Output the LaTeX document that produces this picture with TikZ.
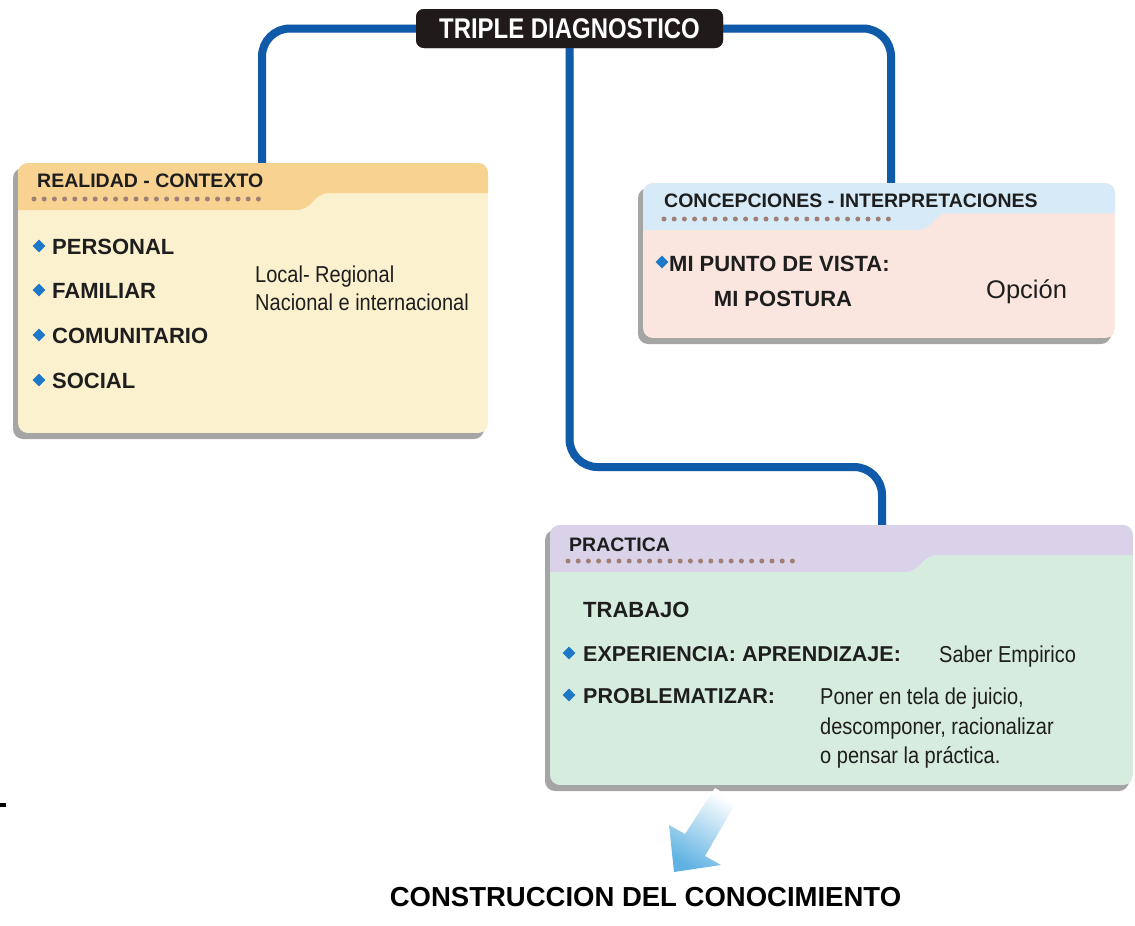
\documentclass[tikz,border=0pt]{standalone}
\usepackage{fontspec}
\setmainfont{Liberation Sans}
\newfontfamily\narrowfont[FakeStretch=0.87]{Liberation Sans}
\newfontfamily\titlefam[FakeStretch=0.84]{Liberation Sans}
\usepackage{tikz}
\usetikzlibrary{shapes.geometric}

\definecolor{linkblue}{RGB}{16,90,170}
\definecolor{titleblack}{RGB}{32,26,26}
\definecolor{textdark}{RGB}{30,30,30}
\definecolor{realhead}{RGB}{248,210,145}
\definecolor{realbody}{RGB}{251,241,206}
\definecolor{conchead}{RGB}{214,234,248}
\definecolor{concbody}{RGB}{250,230,222}
\definecolor{prachead}{RGB}{218,210,232}
\definecolor{pracbody}{RGB}{214,236,223}
\definecolor{dotbrown}{RGB}{160,128,118}
\definecolor{bulletblue}{RGB}{30,120,200}
\definecolor{arrowblue}{RGB}{95,178,226}
\definecolor{boxshadow}{RGB}{165,165,165}

\newcommand{\headfont}{\fontsize{19.5}{23}\selectfont\bfseries}
\newcommand{\itemfont}{\fontsize{22}{26}\selectfont\bfseries}
\newcommand{\subfont}{\fontsize{21.5}{26}\selectfont\bfseries}
\newcommand{\notefont}{\narrowfont\fontsize{23}{27}\selectfont}
\newcommand{\titlefont}{\titlefam\fontsize{28.5}{32}\selectfont\bfseries}

% box with a tab header: x1, y1 (top), x2, y2 (bottom), slant x, head colour, body colour, dots x
\newcommand{\tabbox}[8]{%
  \fill[boxshadow, rounded corners=10] (#1-5,#2+5) rectangle (#3-4,#4+6);
  \begin{scope}
    \clip[rounded corners=10] (#1,#2) rectangle (#3,#4);
    \fill[#7] (#1,#2) rectangle (#3,#4);
    \fill[#6, rounded corners=8] (#1-20,#2+47) -- (#1-20,#2-20) -- (#3+20,#2-20) -- (#3+20,#2+30) -- (#5+16,#2+30) -- (#5,#2+47) -- cycle;
  \end{scope}
  \foreach \k in {0,...,22} \fill[dotbrown] (#8+\k*10.2,#2+36) circle (2.5);
}

\tikzset{
  link/.style={line width=8, draw=linkblue, rounded corners=28},
  linkshadow/.style={line width=8, draw=black!12, rounded corners=28, xshift=3pt, yshift=-3pt},
  titlebox/.style={fill=titleblack, text=white, rounded corners=8, minimum width=307, minimum height=39, inner sep=0, font=\titlefont},
  label/.style={anchor=base west, inner sep=0, text=textdark},
  bullet/.style={diamond, fill=bulletblue, inner sep=0, minimum size=13}
}

\begin{document}
\begin{tikzpicture}[x=1pt, y=-1pt]
  \useasboundingbox (0,0) rectangle (1135,926);

  \coordinate (realidadIn) at (262,163);
  \coordinate (concepIn) at (891,183);
  \coordinate (practicaIn) at (882,525);
  \coordinate (midbend) at (0,467);
  \node[titlebox] (diag) at (569.5,28.5) {TRIPLE DIAGNOSTICO};

  % connectors
  \draw[linkshadow] (diag.west) -| (realidadIn);
  \draw[linkshadow] (diag.east) -| (concepIn);
  \draw[linkshadow] (diag.south) -- (diag.south |- midbend) -| (practicaIn);
  \draw[link] (diag.west) -| (realidadIn);
  \draw[link] (diag.east) -| (concepIn);
  \draw[link] (diag.south) -- (diag.south |- midbend) -| (practicaIn);
  \node[titlebox] at (diag) {TRIPLE DIAGNOSTICO};

  % boxes
  \tabbox{18}{163}{488}{433}{305}{realhead}{realbody}{34}
  \tabbox{643}{183}{1115}{338}{925}{conchead}{concbody}{664}
  \tabbox{550}{525}{1133}{785}{913}{prachead}{pracbody}{568}

  % realidad - contexto
  \node[label, font=\headfont] (realidadHead) at (37,187) {REALIDAD - CONTEXTO};
  \foreach \y/\txt/\nm in {254/PERSONAL/personal, 298/FAMILIAR/familiar, 343/COMUNITARIO/comunitario, 388/SOCIAL/social} {
    \node[bullet] at (39,\y-8) {};
    \node[label, font=\itemfont] (\nm) at (52,\y) {\txt};
  }
  \node[label, font=\notefont] (local) at (255,282) {Local- Regional};
  \node[label, font=\notefont] (nacional) at (255,310) {Nacional e internacional};

  % concepciones - interpretaciones
  \node[label, font=\headfont] (concepHead) at (664,207) {CONCEPCIONES - INTERPRETACIONES};
  \node[bullet] at (662,262) {};
  \node[label, font=\itemfont] (vista) at (669,271) {MI PUNTO DE VISTA:};
  \node[label, font=\itemfont, anchor=base] (postura) at (783,306) {MI POSTURA};
  \node[label, font=\fontsize{25.5}{30}\selectfont] (opcion) at (986,298) {Opción};

  % practica
  \node[label, font=\headfont] (practicaHead) at (569,551) {PRACTICA};
  \node[label, font=\itemfont] (trabajo) at (583,617) {TRABAJO};
  \node[bullet] at (569,653) {};
  \node[label, font=\subfont] (experiencia) at (583,661) {EXPERIENCIA: APRENDIZAJE:};
  \node[label, font=\notefont] (saber) at (939,662) {Saber Empirico};
  \node[bullet] at (569,695) {};
  \node[label, font=\subfont] (problem) at (583,703) {PROBLEMATIZAR:};
  \node[label, font=\notefont] (poner1) at (820,704) {Poner en tela de juicio,};
  \node[label, font=\notefont] (poner2) at (820,734) {descomponer, racionalizar};
  \node[label, font=\notefont] (poner3) at (820,763) {o pensar la práctica.};

  % arrow and result
  \shade[top color=white, bottom color=arrowblue, shading angle=-30]
    (737,801) -- (705,856) -- (721,865) -- (674,872) -- (669,825) -- (685,834) -- (715,788) -- cycle;
  \node[label, anchor=base, font=\fontsize{27.5}{32}\selectfont\bfseries, text=black] (construccion) at (645.5,906) {CONSTRUCCION DEL CONOCIMIENTO};

  \fill[black] (0,802.5) rectangle (6,806.5);
\end{tikzpicture}
\end{document}
